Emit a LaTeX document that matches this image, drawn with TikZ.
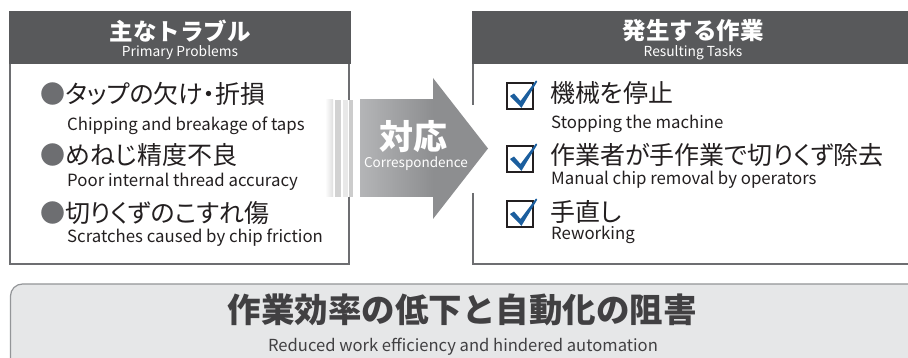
\documentclass[tikz,border=0pt]{standalone}
\usepackage{fontspec}
\setmainfont{Noto Sans CJK JP}
\newfontfamily\jpp[RawFeature=+palt]{Noto Sans CJK JP}
\definecolor{hdr}{HTML}{58595B}
\definecolor{bord}{HTML}{6D6E71}
\definecolor{txt}{HTML}{231F20}
\definecolor{bul}{HTML}{6D6E71}
\definecolor{chk}{HTML}{1B5E9E}
\definecolor{botfill}{HTML}{E6E7E8}
\definecolor{botbord}{HTML}{939598}
\definecolor{bottxt}{HTML}{414042}
\definecolor{arrL}{HTML}{B4B5B7}
\definecolor{arrR}{HTML}{8D8E90}
\tikzset{
  jp/.style={anchor=west, font=\jpp\fontsize{25}{25}\selectfont, text=txt, inner sep=0pt},
  en/.style={anchor=base west, font=\fontsize{16.8}{16.8}\selectfont, text=txt, inner sep=0pt},
  hjp/.style={font=\bfseries\fontsize{23.5}{23.5}\selectfont, text=white, inner sep=0pt},
  hen/.style={anchor=base, font=\fontsize{13.8}{13.8}\selectfont, text=white, inner sep=0pt},
  boxline/.style={draw=bord, line width=2pt},
  chkbox/.pic={
    \draw[txt, line width=1.3pt, fill=white] (0,0) rectangle (26,26);
    \fill[chk] (3,13) -- (7,10.5) -- (13.5,18) -- (29,-2.5) -- (30.2,-1.3) -- (14.5,24.8) -- cycle;
  }
}
\begin{document}
\begin{tikzpicture}[x=1pt,y=-1pt]
\useasboundingbox (0,0) rectangle (908,358);
% left box
\draw[boxline] (10,12) rectangle (349,264);
\fill[hdr] (9,11) rectangle (350.5,64);
\node[hjp] (lh) at (180,31) {主なトラブル};
\node[hen] (lhe) at (180,57) {Primary Problems};
% right box
\draw[boxline] (472.5,64) -- (472.5,105);
\draw[boxline] (472.5,193) -- (472.5,264.5) -- (915,264.5);
\fill[hdr] (471.5,11.5) rectangle (915,64);
\node[hjp] (rh) at (693,31) {発生する作業};
\node[hen] (rhe) at (693,57) {Resulting Tasks};
% left items
\node[jp] (p1) at (40,94) {{\color{bul}●}タップの欠け・折損};
\node[en] (p1e) at (67,131) {Chipping and breakage of taps};
\node[jp] (p2) at (40,155) {{\color{bul}●}めねじ精度不良};
\node[en] (p2e) at (67,187) {Poor internal thread accuracy};
\node[jp] (p3) at (40,213) {{\color{bul}●}切りくずのこすれ傷};
\node[en] (p3e) at (67,243) {Scratches caused by chip friction};
% right items
\pic at (507,83) {chkbox};
\node[jp] (t1) at (550,93) {機械を停止};
\node[en] (t1e) at (551,129) {Stopping the machine};
\pic at (507,146) {chkbox};
\node[jp] (t2) at (550,155) {作業者が手作業で切りくず除去};
\node[en] (t2e) at (551,185) {Manual chip removal by operators};
\pic at (507,201) {chkbox};
\node[jp] (t3) at (550,212) {手直し};
\node[en] (t3e) at (551,240) {Reworking};
% arrow
\fill[white] (324,100) rectangle (360,197);
\shade[left color=white, right color=gray!25] (325,100) rectangle (333,197);
\fill[gray!35] (335,100) rectangle (341,197);
\fill[gray!18] (343,100) rectangle (348,197);
\fill[gray!40] (349,100) rectangle (353,197);
\shade[left color=arrL, right color=arrR] (360,100) rectangle (433.5,197);
\fill[arrR] (433,78) -- (488,148.5) -- (433,219) -- cycle;
\node[font=\bfseries\fontsize{34}{34}\selectfont, text=white, inner sep=0pt] (ar) at (413,137) {対応};
\node[font=\fontsize{13.5}{13.5}\selectfont, text=white, inner sep=0pt, anchor=base] (are) at (416,168) {Correspondence};
% bottom
\draw[botbord, fill=botfill, line width=1.2pt, rounded corners=12pt] (10.5,284) rectangle (920,372);
\node[font=\bfseries\fontsize{33.5}{33.5}\selectfont, text=bottxt, inner sep=0pt] (bt) at (462,310) {作業効率の低下と自動化の阻害};
\node[font=\fontsize{16.6}{16.6}\selectfont, text=bottxt, inner sep=0pt, anchor=base] (bte) at (463,351) {Reduced work efficiency and hindered automation};
\end{tikzpicture}
\end{document}
